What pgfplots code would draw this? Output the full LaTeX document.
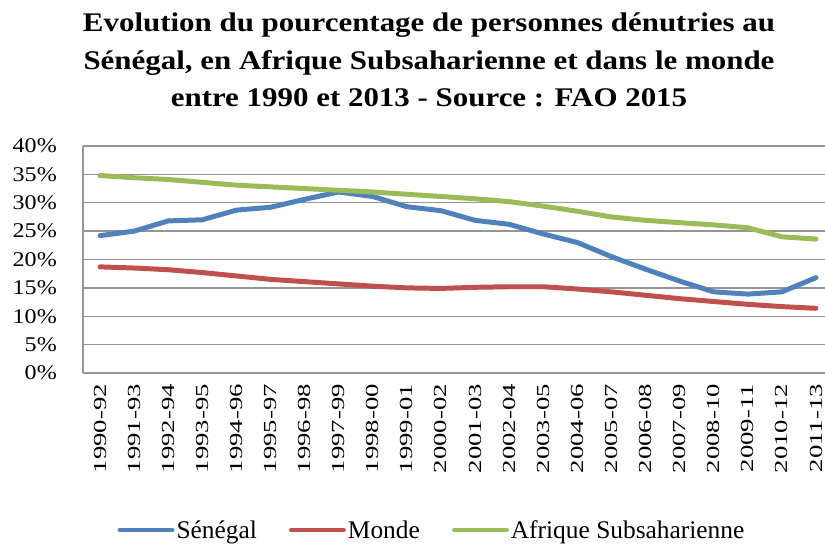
\documentclass[border=0pt]{standalone}
\usepackage{pgfplots}
\pgfplotsset{compat=1.18}
\usepackage{fontspec}
\setmainfont{Liberation Serif}
\newfontfamily\widefont[FakeStretch=1.15]{Liberation Serif}
\newfontfamily\widerfont[FakeStretch=1.45]{Liberation Serif}

\definecolor{senblue}{HTML}{4F81BD}
\definecolor{monred}{HTML}{C0504D}
\definecolor{afrgreen}{HTML}{9BBB59}
\definecolor{gridgray}{HTML}{959595}

\begin{document}
\begin{tikzpicture}
% page is 825 x 544 bp; axis origin at the lower left of the plot box
\path[use as bounding box] (-83bp,-171bp) rectangle (742bp,373bp);

\begin{axis}[
    at={(0,0)}, anchor=south west,
    scale only axis,
    width=750bp, height=227bp,
    xmin=-0.5, xmax=21.5,
    ymin=0, ymax=40,
    ytick={0,5,...,40},
    xtick={0,...,21},
    xticklabels={1990-92,1991-93,1992-94,1993-95,1994-96,1995-97,1996-98,1997-99,1998-00,1999-01,2000-02,2001-03,2002-04,2003-05,2004-06,2005-07,2006-08,2007-09,2008-10,2009-11,2010-12,2011-13},
    yticklabel={\pgfmathprintnumber{\tick}\%},
    /pgf/number format/assume math mode=true,
    xticklabel style={font=\widerfont\fontsize{18.5}{22}\selectfont,
        rotate=90, anchor=east, inner sep=0pt, xshift=-11bp},
    yticklabel style={font=\widefont\fontsize{21}{24}\selectfont,
        anchor=east, inner sep=0pt, xshift=-26bp},
    major tick length=0pt,
    axis line style={gridgray, line width=1.3pt},
    ymajorgrids=true,
    major grid style={gridgray, line width=1.3pt},
    axis x line*=bottom,
    axis y line*=left,
    legend columns=3,
    legend style={
        at={(349bp,-157bp)}, anchor=center,
        draw=none, fill=none,
        font=\fontsize{25.5}{28}\selectfont,
        inner sep=0pt,
        /tikz/every odd column/.append style={column sep=0bp},
        /tikz/every even column/.append style={column sep=30bp},
    },
    legend image code/.code={\draw[#1, line width=5pt, line cap=round] (0bp,0bp) -- (52bp,0bp);},
    every axis plot/.append style={line width=5pt, line join=round, line cap=round},
    clip=false,
]
\addplot[senblue] coordinates {
(0,24.2) (1,25.0) (2,26.8) (3,27.0) (4,28.7) (5,29.2) (6,30.6) (7,31.9) (8,31.1) (9,29.3)
(10,28.6) (11,26.9) (12,26.2) (13,24.5) (14,23.0) (15,20.5) (16,18.3) (17,16.2) (18,14.3) (19,13.9)
(20,14.3) (21,16.8)
};
\addlegendentry{Sénégal}
\addplot[monred] coordinates {
(0,18.7) (1,18.5) (2,18.2) (3,17.7) (4,17.1) (5,16.5) (6,16.1) (7,15.7) (8,15.3) (9,15.0)
(10,14.9) (11,15.1) (12,15.2) (13,15.2) (14,14.8) (15,14.3) (16,13.7) (17,13.1) (18,12.6) (19,12.1)
(20,11.7) (21,11.4)
};
\addlegendentry{Monde}
\addplot[afrgreen] coordinates {
(0,34.8) (1,34.4) (2,34.1) (3,33.6) (4,33.1) (5,32.8) (6,32.5) (7,32.2) (8,31.9) (9,31.5)
(10,31.1) (11,30.7) (12,30.2) (13,29.4) (14,28.5) (15,27.5) (16,26.9) (17,26.5) (18,26.1) (19,25.6)
(20,24.0) (21,23.6)
};
\addlegendentry{Afrique Subsaharienne}
\end{axis}

\node[align=center, font=\widefont\fontsize{27}{38}\selectfont\bfseries, anchor=base]
  at (346bp,266bp)
  {Evolution du pourcentage de personnes dénutries au\\
   Sénégal, en Afrique Subsaharienne et dans le monde\\
   entre 1990 et 2013 - Source : FAO 2015};
\end{tikzpicture}
\end{document}
